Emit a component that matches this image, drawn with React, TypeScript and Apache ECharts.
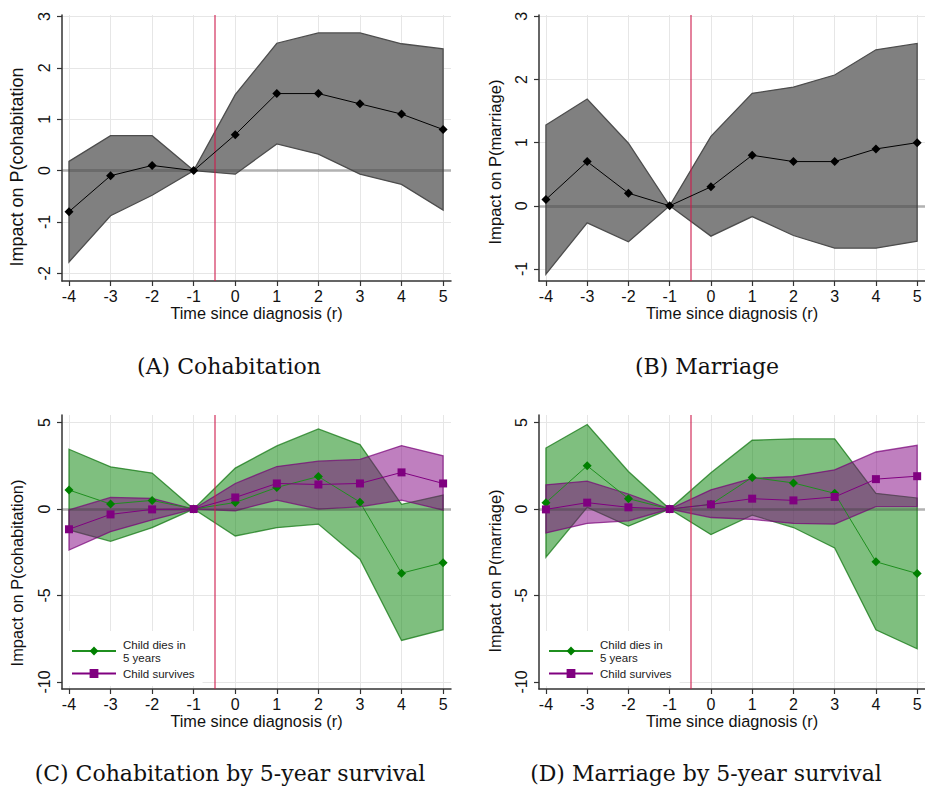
import React, { useEffect, useRef } from "react";
import * as echarts from "echarts";

// ---------- data ----------
const xs = [-4, -3, -2, -1, 0, 1, 2, 3, 4, 5];
const xTicks = [-4, -3, -2, -1, 0, 1, 2, 3, 4, 5];
const yTicksTop = [-2, -1, 0, 1, 2, 3];
const yTicksTopB = [-1, 0, 1, 2, 3];
const yTicksBottom = [-10, -5, 0, 5];

// (A) Cohabitation
const cohabCoef = [-0.8, -0.1, 0.1, 0, 0.7, 1.5, 1.5, 1.3, 1.1, 0.8];
const cohabLo = [-1.78, -0.88, -0.48, 0, -0.07, 0.52, 0.32, -0.07, -0.27, -0.77];
const cohabHi = [0.18, 0.68, 0.68, 0, 1.48, 2.48, 2.68, 2.68, 2.47, 2.37];

// (B) Marriage
const marrCoef = [0.1, 0.7, 0.2, 0, 0.3, 0.8, 0.7, 0.7, 0.9, 1.0];
const marrLo = [-1.08, -0.27, -0.57, 0, -0.48, -0.17, -0.47, -0.67, -0.67, -0.56];
const marrHi = [1.28, 1.69, 0.99, 0, 1.1, 1.78, 1.88, 2.07, 2.47, 2.57];

// (C) Cohabitation by 5-year survival
const cohabDiesCoef = [1.1, 0.29, 0.5, 0, 0.38, 1.25, 1.88, 0.4, -3.71, -3.1];
const cohabDiesLo = [-1.21, -1.87, -1.08, 0, -1.56, -1.08, -0.87, -2.9, -7.6, -6.98];
const cohabDiesHi = [3.46, 2.44, 2.08, 0, 2.37, 3.65, 4.63, 3.73, 0.27, 0.81];
const cohabSurvCoef = [-1.17, -0.31, -0.02, 0, 0.67, 1.48, 1.42, 1.48, 2.12, 1.48];
const cohabSurvLo = [-2.37, -1.31, -0.63, 0, -0.1, 0.52, 0, 0.13, 0.52, -0.06];
const cohabSurvHi = [-0.05, 0.67, 0.62, 0, 1.48, 2.46, 2.77, 2.87, 3.67, 3.08];

// (D) Marriage by 5-year survival
const marrDiesCoef = [0.37, 2.5, 0.6, 0, 0.27, 1.83, 1.51, 0.91, -3.05, -3.73];
const marrDiesLo = [-2.78, 0.1, -0.99, 0, -1.48, -0.35, -1.07, -2.25, -6.99, -8.08];
const marrDiesHi = [3.53, 4.89, 2.17, 0, 2.1, 3.98, 4.06, 4.06, 0.91, 0.64];
const marrSurvCoef = [-0.02, 0.37, 0.1, 0, 0.27, 0.6, 0.5, 0.7, 1.73, 1.9];
const marrSurvLo = [-1.38, -0.83, -0.68, 0, -0.49, -0.6, -0.83, -0.87, 0.14, 0.14];
const marrSurvHi = [1.4, 1.61, 0.87, 0, 1.11, 1.77, 1.88, 2.27, 3.3, 3.69];

const diesName = "Child dies in\n5 years";
const survName = "Child survives";
const xTitle = "Time since diagnosis (r)";
const yTitles = [
  "Impact on P(cohabitation",
  "Impact on P(marriage)",
  "Impact on P(cohabitation)",
  "Impact on P(marriage)",
];
const captions = [
  "(A) Cohabitation",
  "(B) Marriage",
  "(C) Cohabitation by 5-year survival",
  "(D) Marriage by 5-year survival",
];
const diagnosisLine = -0.5;

// ---------- styling ----------
const SANS = "'Liberation Sans', Arial, sans-serif";
const SERIF = "'DejaVu Serif', serif";
const AX = "#333";
const GRIDC = "#e6e6e6";

const xAxisCfg = (gridIndex: number) => ({
  type: "value",
  gridIndex,
  min: -4.168,
  max: 5.19,
  name: xTitle,
  nameLocation: "middle",
  nameGap: 22,
  nameTextStyle: { fontSize: 16.3, color: "#111", fontFamily: SANS },
  axisLine: { show: true, onZero: false, lineStyle: { color: AX, width: 1.5 } },
  axisTick: { show: true, length: 5, customValues: xTicks, lineStyle: { color: AX, width: 1.2 } },
  axisLabel: {
    customValues: xTicks,
    fontSize: 16,
    color: "#111",
    fontFamily: SANS,
    margin: 7,
  },
  splitLine: { show: true, lineStyle: { color: GRIDC, width: 1 } },
});

const yAxisCfg = (gridIndex: number, min: number, max: number, ticks: number[]) => ({
  type: "value",
  gridIndex,
  min,
  max,
  axisLine: { show: true, onZero: false, lineStyle: { color: AX, width: 1.5 } },
  axisTick: { show: true, length: 5, customValues: ticks, lineStyle: { color: AX, width: 1.2 } },
  axisLabel: {
    customValues: ticks,
    rotate: 90,
    fontSize: 16,
    color: "#111",
    fontFamily: SANS,
    margin: 10,
  },
  splitLine: { show: true, lineStyle: { color: GRIDC, width: 1 } },
});

const band = (idx: number, lo: number[], hi: number[], fill: string, stroke: string, z: number) => ({
  type: "custom",
  xAxisIndex: idx,
  yAxisIndex: idx,
  z,
  silent: true,
  data: [[xs[0], lo[0]]],
  renderItem: (_params: any, api: any) => {
    const pts: number[][] = xs.map((x, i) => api.coord([x, hi[i]]));
    for (let i = xs.length - 1; i >= 0; i--) pts.push(api.coord([xs[i], lo[i]]));
    return {
      type: "polygon",
      shape: { points: pts },
      style: { fill, stroke, lineWidth: 1.3 },
    };
  },
});

const refLines = {
  silent: true,
  symbol: "none",
  z: 3,
  label: { show: false },
  emphasis: { disabled: true },
  data: [
    { yAxis: 0, lineStyle: { color: "rgba(60,60,60,0.3)", width: 3, type: "solid" } },
    { xAxis: diagnosisLine, lineStyle: { color: "rgba(205,25,75,0.72)", width: 1.5, type: "solid" } },
  ],
};

const line = (
  idx: number,
  name: string,
  coef: number[],
  color: string,
  lineColor: string,
  symbol: string,
  symbolSize: number,
  z: number,
  withRef: boolean
) => ({
  type: "line",
  name,
  xAxisIndex: idx,
  yAxisIndex: idx,
  z,
  silent: true,
  data: xs.map((x, i) => [x, coef[i]]),
  symbol,
  symbolSize,
  showAllSymbol: true,
  lineStyle: { color: lineColor, width: 1 },
  itemStyle: { color },
  ...(withRef ? { markLine: refLines } : {}),
});

const GREEN_FILL = "rgba(0,128,0,0.5)";
const GREEN_EDGE = "rgba(20,120,20,0.75)";
const PURP_FILL = "rgba(128,0,128,0.5)";
const PURP_EDGE = "rgba(120,0,120,0.7)";

const legendCfg = (left: number) => ({
  left,
  top: 631,
  orient: "vertical",
  data: [diesName, survName],
  backgroundColor: "#fff",
  padding: [7, 8, 6, 8],
  itemWidth: 44,
  itemHeight: 11,
  itemGap: 3,
  selectedMode: false,
  textStyle: { fontSize: 11.5, lineHeight: 13, color: "#222", fontFamily: SANS, padding: [0, 0, 0, 2] },
});

const caption = (x: number, y: number, text: string) => ({
  type: "text",
  x,
  y,
  silent: true,
  style: { text, fontSize: 22, fontFamily: SERIF, fill: "#111", align: "center", verticalAlign: "middle" },
});

const yTitle = (x: number, y: number, text: string, size: number) => ({
  type: "text",
  x,
  y,
  rotation: Math.PI / 2,
  silent: true,
  style: { text, fontSize: size, fontFamily: SANS, fill: "#111", align: "center", verticalAlign: "middle" },
});

export default function App() {
  const ref = useRef<HTMLDivElement>(null);
  useEffect(() => {
    if (!ref.current) return;
    const chart = echarts.init(ref.current, undefined, { renderer: "svg" });
    const option: any = {
      animation: false,
      backgroundColor: "#fff",
      grid: [
        { left: 62, top: 15, width: 389, height: 266 },
        { left: 539, top: 15, width: 389, height: 266 },
        { left: 62, top: 415, width: 389, height: 274 },
        { left: 539, top: 415, width: 389, height: 274 },
      ],
      xAxis: [xAxisCfg(0), xAxisCfg(1), xAxisCfg(2), xAxisCfg(3)],
      yAxis: [
        yAxisCfg(0, -2.15, 3.03, yTicksTop),
        yAxisCfg(1, -1.19, 3.02, yTicksTopB),
        yAxisCfg(2, -10.41, 5.44, yTicksBottom),
        yAxisCfg(3, -10.41, 5.44, yTicksBottom),
      ],
      legend: [legendCfg(63), legendCfg(540)],
      series: [
        band(0, cohabLo, cohabHi, "#808080", "#4d4d4d", 2),
        line(0, "A", cohabCoef, "#000", "#000", "diamond", 9, 4, true),
        band(1, marrLo, marrHi, "#808080", "#4d4d4d", 2),
        line(1, "B", marrCoef, "#000", "#000", "diamond", 9, 4, true),

        band(2, cohabDiesLo, cohabDiesHi, GREEN_FILL, GREEN_EDGE, 2),
        line(2, diesName, cohabDiesCoef, "#008000", "#1f8f1f", "diamond", 9, 2, false),
        band(2, cohabSurvLo, cohabSurvHi, PURP_FILL, PURP_EDGE, 2),
        line(2, survName, cohabSurvCoef, "#800080", "#800080", "rect", 8, 4, true),

        band(3, marrDiesLo, marrDiesHi, GREEN_FILL, GREEN_EDGE, 2),
        line(3, diesName, marrDiesCoef, "#008000", "#1f8f1f", "diamond", 9, 2, false),
        band(3, marrSurvLo, marrSurvHi, PURP_FILL, PURP_EDGE, 2),
        line(3, survName, marrSurvCoef, "#800080", "#800080", "rect", 8, 4, true),
      ],
      graphic: [
        yTitle(17, 167, yTitles[0], 18),
        yTitle(495, 162, yTitles[1], 16.6),
        yTitle(17, 573, yTitles[2], 16.4),
        yTitle(495, 571, yTitles[3], 16.4),
        caption(229, 366, captions[0]),
        caption(707, 366, captions[1]),
        caption(230, 773, captions[2]),
        caption(706, 773, captions[3]),
      ],
    };
    chart.setOption(option);
    return () => chart.dispose();
  }, []);
  return (
    <div
      ref={ref}
      style={{ position: "fixed", left: 0, top: 0, width: 925, height: 787, background: "#fff" }}
    />
  );
}
